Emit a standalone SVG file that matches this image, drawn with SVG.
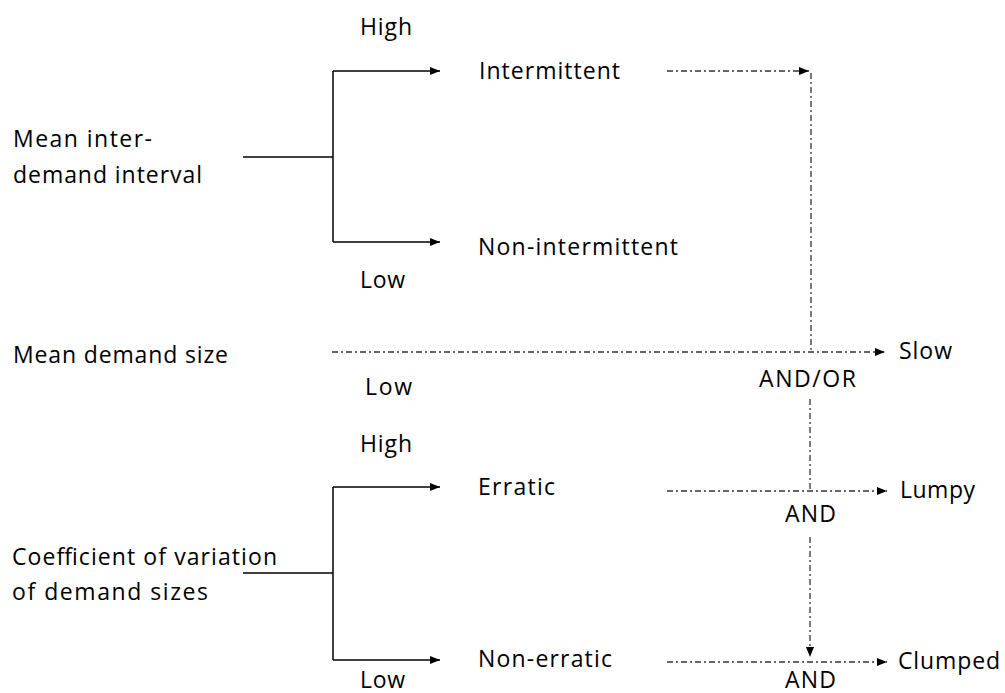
<svg xmlns="http://www.w3.org/2000/svg" width="1005" height="693" viewBox="0 0 1005 693">
<defs>
<style>
text{font-family:"Open Sans","Liberation Sans",sans-serif;font-size:23px;fill:#000}
.s{stroke:#000;stroke-width:1.5;fill:none}
.d{stroke:#333;stroke-width:1.3;fill:none;stroke-dasharray:6 3 2 3}
</style>
<marker id="ah" markerWidth="10" markerHeight="8" refX="10" refY="4" orient="auto" markerUnits="userSpaceOnUse">
<path d="M0,0 L10,4 L0,8 Z" fill="#000"/>
</marker>
</defs>
<rect width="1005" height="693" fill="#fff"/>
<g id="connectors">
<path class="s" d="M243,157 H333"/>
<path class="s" d="M333,71 V242"/>
<path class="s" d="M333,71 H440" marker-end="url(#ah)"/>
<path class="s" d="M333,242 H440" marker-end="url(#ah)"/>
<path class="s" d="M243,573 H333"/>
<path class="s" d="M333,487 V660"/>
<path class="s" d="M333,487 H440" marker-end="url(#ah)"/>
<path class="s" d="M333,660 H440" marker-end="url(#ah)"/>
<path class="d" d="M667,71 H809" marker-end="url(#ah)"/>
<path class="d" d="M811,73 V352"/>
<path class="d" d="M332,352 H885" marker-end="url(#ah)"/>
<path class="d" d="M810,399 V491"/>
<path class="d" d="M667,491 H887" marker-end="url(#ah)"/>
<path class="d" d="M810,537 V657" marker-end="url(#ah)"/>
<path class="d" d="M667,662 H887" marker-end="url(#ah)"/>
</g>
<g id="mean-inter-demand-interval"><text x="13" y="147" textLength="139" lengthAdjust="spacing">Mean inter-</text><text x="13" y="183" textLength="189" lengthAdjust="spacing">demand interval</text></g>
<g id="high-1"><text x="360" y="35" textLength="52" lengthAdjust="spacing">High</text></g>
<g id="intermittent"><text x="479" y="79" textLength="141" lengthAdjust="spacing">Intermittent</text></g>
<g id="non-intermittent"><text x="478" y="255" textLength="200" lengthAdjust="spacing">Non-intermittent</text></g>
<g id="low-1"><text x="360" y="288" textLength="45" lengthAdjust="spacing">Low</text></g>
<g id="mean-demand-size"><text x="13" y="363" textLength="215" lengthAdjust="spacing">Mean demand size</text></g>
<g id="low-2"><text x="365" y="395" textLength="47" lengthAdjust="spacing">Low</text></g>
<g id="slow"><text x="899" y="359" textLength="53" lengthAdjust="spacing">Slow</text></g>
<g id="and-or"><text x="759" y="387" textLength="97" lengthAdjust="spacing">AND/OR</text></g>
<g id="high-2"><text x="360" y="452" textLength="52" lengthAdjust="spacing">High</text></g>
<g id="erratic"><text x="478" y="495" textLength="77" lengthAdjust="spacing">Erratic</text></g>
<g id="lumpy"><text x="900" y="498" textLength="75" lengthAdjust="spacing">Lumpy</text></g>
<g id="and-1"><text x="785" y="522" textLength="51" lengthAdjust="spacing">AND</text></g>
<g id="coefficient-of-variation"><text x="12" y="565" textLength="265" lengthAdjust="spacing">Coefficient of variation</text><text x="12" y="600" textLength="196" lengthAdjust="spacing">of demand sizes</text></g>
<g id="non-erratic"><text x="478" y="667" textLength="134" lengthAdjust="spacing">Non-erratic</text></g>
<g id="clumped"><text x="898" y="669" textLength="102" lengthAdjust="spacing">Clumped</text></g>
<g id="low-3"><text x="360" y="688" textLength="45" lengthAdjust="spacing">Low</text></g>
<g id="and-2"><text x="785" y="688" textLength="51" lengthAdjust="spacing">AND</text></g>
</svg>
